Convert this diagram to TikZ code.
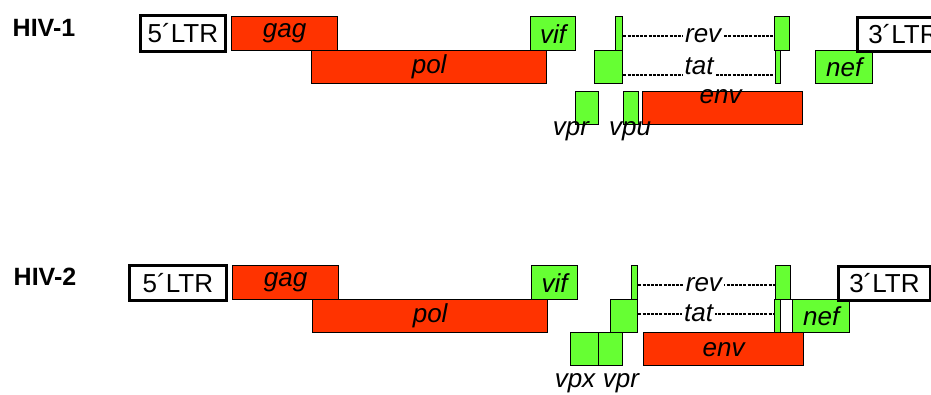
\documentclass[tikz,border=0pt]{standalone}
\usepackage{fontspec}
\setmainfont{Liberation Sans}
\usetikzlibrary{positioning}
\definecolor{genered}{HTML}{FF3300}
\definecolor{genegreen}{HTML}{66FF33}

\begin{document}
\begin{tikzpicture}[x=1pt, y=-1pt,
	genetext/.style={inner sep=0pt, font=\fontsize{26}{30}\selectfont\itshape},
	gene/.style={draw, line width=1.3pt, anchor=north west, inner sep=0pt, font=\fontsize{26}{30}\selectfont\itshape},
	structural/.style={gene, fill=genered},
	accessory/.style={gene, fill=genegreen},
	ltr/.style={gene, line width=2.8pt, fill=white, font=\fontsize{26}{30}\selectfont},
	genome/.style={inner sep=0pt, font=\fontsize{25}{28}\selectfont\bfseries},
	splice/.style={line width=1.7pt, dash pattern=on 3pt off 1.2pt}]

\useasboundingbox (0,0) rectangle (931,394);
\clip (0,0) rectangle (931,394);

\node [genome] (hiv1) at (44,27.5) {HIV-1};

\node [ltr, minimum width=85pt, minimum height=36pt] (ltr5a) at (139,14) {5´LTR};
\node [structural, minimum width=106pt, minimum height=34pt] (gag1) at (231,16) {gag};
\node [structural, minimum width=235pt, minimum height=33pt] (pol1) at (311,50) {pol};
\node [accessory, minimum width=45pt, minimum height=34pt] (vif1) at (530,16) {vif};
\node [accessory, minimum width=7pt, minimum height=34pt] (rev1a) at (615,16) {};
\node [accessory, minimum width=28pt, minimum height=33pt] (tat1a) at (594,50) {};
\node [accessory, minimum width=15pt, minimum height=34pt] (rev1b) at (774,16) {};
\node [accessory, minimum width=5pt, minimum height=33pt] (tat1b) at (775,50) {};
\node [accessory, minimum width=57pt, minimum height=33pt] (nef1) at (815,50) {nef};
\node [ltr, minimum width=92pt, minimum height=34pt] (ltr3a) at (856,16) {3´LTR};
\node [accessory, minimum width=23pt, minimum height=33pt] (vpr1) at (575,91) {};
\node [accessory, minimum width=15pt, minimum height=33pt] (vpu1) at (623,91) {};
\node [structural, minimum width=160pt, minimum height=33pt] (env1) at (642,91) {};
\node [genetext] (envtext1) at ([xshift=-2pt, yshift=-6pt]env1.north) {env};
\node [genetext, anchor=base] (vprtext1) at (571,135) {vpr};
\node [genetext, anchor=base] (vputext1) at (630,135) {vpu};

\draw [splice] ([yshift=-2pt]rev1a.east) -- node [genetext, fill=white, inner sep=2pt, pos=0.53] {rev} ([yshift=-2pt]rev1b.west);
\draw [splice] ([yshift=-7.5pt]tat1a.east) -- node [genetext, fill=white, inner sep=2pt, anchor=base] {tat} ([yshift=-7.5pt]tat1b.west);

\node [genome] (hiv2) at (45,277) {HIV-2};

\node [ltr, minimum width=97pt, minimum height=35pt] (ltr5b) at (128,264) {5´LTR};
\node [structural, minimum width=106pt, minimum height=34pt] (gag2) at (232,265) {gag};
\node [structural, minimum width=235pt, minimum height=33pt] (pol2) at (312,299) {pol};
\node [accessory, minimum width=46pt, minimum height=34pt] (vif2) at (531,265) {vif};
\node [accessory, minimum width=6pt, minimum height=34pt] (rev2a) at (631,265) {};
\node [accessory, minimum width=27pt, minimum height=33pt] (tat2a) at (610,299) {};
\node [accessory, minimum width=28pt, minimum height=33pt] (vpx2) at (570,332) {};
\node [accessory, minimum width=24pt, minimum height=33pt] (vpr2) at (598,332) {};
\node [structural, minimum width=160pt, minimum height=33pt] (env2) at (643,332) {env};
\node [accessory, minimum width=15pt, minimum height=34pt] (rev2b) at (775,265) {};
\node [accessory, minimum width=6pt, minimum height=33pt] (tat2b) at (774,299) {};
\node [gene, fill=white, minimum width=12pt, minimum height=33pt] (gap2) at (780,299) {};
\node [accessory, minimum width=57pt, minimum height=33pt] (nef2) at (792,299) {nef};
\node [ltr, minimum width=92pt, minimum height=34pt] (ltr3b) at (837,265) {3´LTR};
\node [genetext, anchor=base] (vpxtext2) at (575,387) {vpx};
\node [genetext, anchor=base] (vprtext2) at (621,387) {vpr};

\draw [splice] ([yshift=-2pt]rev2a.east) -- node [genetext, fill=white, inner sep=2pt, pos=0.48] {rev} ([yshift=-2pt]rev2b.west);
\draw [splice] ([yshift=2.5pt]tat2a.east) -- node [genetext, fill=white, inner sep=2pt, pos=0.445] {tat} ([yshift=2.5pt]tat2b.west);

\end{tikzpicture}
\end{document}
